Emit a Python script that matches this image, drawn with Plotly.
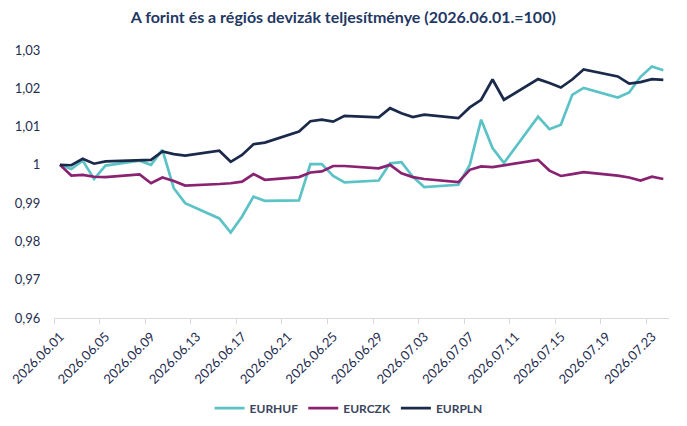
import pandas as pd
import plotly.graph_objects as go

# business days in the window
dates = [
    "2026-06-01", "2026-06-02", "2026-06-03", "2026-06-04", "2026-06-05",
    "2026-06-08", "2026-06-09", "2026-06-10", "2026-06-11", "2026-06-12",
    "2026-06-15", "2026-06-16", "2026-06-17", "2026-06-18", "2026-06-19",
    "2026-06-22", "2026-06-23", "2026-06-24", "2026-06-25", "2026-06-26",
    "2026-06-29", "2026-06-30", "2026-07-01", "2026-07-02", "2026-07-03",
    "2026-07-06", "2026-07-07", "2026-07-08", "2026-07-09", "2026-07-10",
    "2026-07-13", "2026-07-14", "2026-07-15", "2026-07-16", "2026-07-17",
    "2026-07-20", "2026-07-21", "2026-07-22", "2026-07-23", "2026-07-24",
]

eurhuf = [
    1.0000, 0.9989, 1.0011, 0.9963, 0.9998, 1.0011, 1.0000, 1.0039, 0.9939, 0.9900,
    0.9860, 0.9823, 0.9865, 0.9917, 0.9906, 0.9907, 1.0002, 1.0002, 0.9971, 0.9954,
    0.9959, 1.0004, 1.0007, 0.9969, 0.9942, 0.9948, 1.0000, 1.0118, 1.0044, 1.0005,
    1.0126, 1.0093, 1.0105, 1.0183, 1.0201, 1.0176, 1.0189, 1.0230, 1.0257, 1.0247,
]
eurczk = [
    1.0000, 0.9972, 0.9974, 0.9969, 0.9968, 0.9975, 0.9952, 0.9967, 0.9958, 0.9946,
    0.9950, 0.9952, 0.9956, 0.9976, 0.9961, 0.9968, 0.9980, 0.9983, 0.9997, 0.9997,
    0.9991, 1.0000, 0.9978, 0.9968, 0.9963, 0.9955, 0.9987, 0.9996, 0.9994, 0.9999,
    1.0013, 0.9985, 0.9971, 0.9976, 0.9981, 0.9972, 0.9967, 0.9959, 0.9969, 0.9963,
]
eurpln = [
    1.0000, 0.9999, 1.0016, 1.0003, 1.0009, 1.0011, 1.0013, 1.0035, 1.0028, 1.0024,
    1.0037, 1.0008, 1.0026, 1.0054, 1.0058, 1.0087, 1.0114, 1.0118, 1.0113, 1.0128,
    1.0124, 1.0148, 1.0135, 1.0125, 1.0131, 1.0122, 1.0150, 1.0170, 1.0223, 1.0170,
    1.0224, 1.0214, 1.0202, 1.0223, 1.0249, 1.0231, 1.0212, 1.0216, 1.0224, 1.0222,
]

x_tick_dates = [
    "2026-06-01", "2026-06-05", "2026-06-09", "2026-06-13", "2026-06-17",
    "2026-06-21", "2026-06-25", "2026-06-29", "2026-07-03", "2026-07-07",
    "2026-07-11", "2026-07-15", "2026-07-19", "2026-07-23",
]
y_ticks = [0.96, 0.97, 0.98, 0.99, 1.00, 1.01, 1.02, 1.03]
y_labels = ["0,96", "0,97", "0,98", "0,99", "1", "1,01", "1,02", "1,03"]

series = [
    ("EURHUF", eurhuf, "#5BC2C6"),
    ("EURCZK", eurczk, "#8A2272"),
    ("EURPLN", eurpln, "#1B2A4A"),
]

navy = "#1F2D50"
half_day = pd.Timedelta(hours=12)

# each date sits in the middle of its day, ticks mark the day boundaries
tick_pos = [pd.Timestamp(d) - half_day for d in x_tick_dates]
tick_text = [d.replace("-", ".") for d in x_tick_dates]
x_range = [pd.Timestamp(dates[0]) - half_day - pd.Timedelta(minutes=30),
           pd.Timestamp(dates[-1]) + half_day]

fig = go.Figure()
for name, vals, color in series:
    fig.add_trace(go.Scatter(
        x=dates, y=vals, name=name, mode="lines",
        line=dict(color=color, width=2.7),
    ))

# the page body shifts the figure 8px right/down, margins take that into account
fig.update_layout(
    width=687, height=426,
    margin=dict(l=46, r=26, t=42, b=116),
    paper_bgcolor="white", plot_bgcolor="white",
    font=dict(family="Lato", color=navy, size=13),
    title=dict(
        text="<b>A forint és a régiós devizák teljesítménye (2026.06.01.=100)</b>",
        x=0.488, xanchor="center", y=0.979, yanchor="middle",
        font=dict(size=16, color="#1F3864"),
    ),
    legend=dict(
        orientation="h", x=0.479, xanchor="center",
        y=-0.336, yanchor="middle",
        font=dict(size=12, color="#3A4560", weight="bold"),
        itemwidth=30,
    ),
    showlegend=True,
)

fig.update_xaxes(
    type="date", range=x_range, automargin=False,
    tickvals=tick_pos, ticktext=tick_text, tickangle=-45,
    ticklabeloverflow="allow", ticklabelshift=6,
    showgrid=False, zeroline=False,
    showline=True, linecolor="#D9D9D9", linewidth=1,
    ticks="outside", ticklen=5, tickcolor="#D9D9D9",
    tickfont=dict(size=13, color=navy),
)
fig.update_yaxes(
    range=[0.96, 1.03], tickvals=y_ticks, ticktext=y_labels, automargin=False,
    showgrid=False, zeroline=False, showline=False,
    ticks="outside", ticklen=10, tickcolor="rgba(0,0,0,0)",
    tickfont=dict(size=13, color=navy),
)

fig.write_html("out.html")
